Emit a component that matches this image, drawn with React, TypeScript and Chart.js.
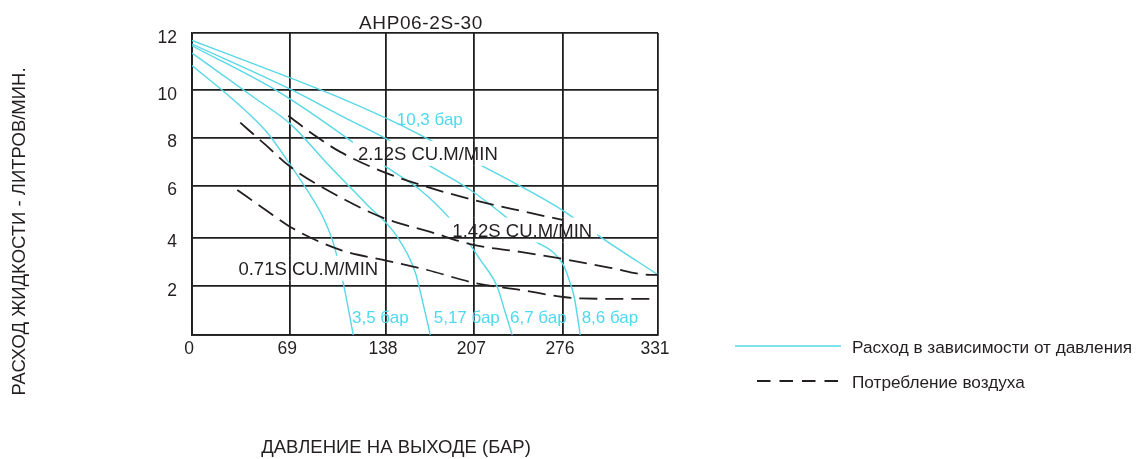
import React, { useEffect, useRef } from 'react';
import { Chart, registerables, LinearScale } from 'chart.js';

// ---------- data ----------
const TITLE = 'AHP06-2S-30';
const X_AXIS_TITLE = 'ДАВЛЕНИЕ НА ВЫХОДЕ (БАР)';
const Y_AXIS_TITLE = 'РАСХОД ЖИДКОСТИ - ЛИТРОВ/МИН.';
const X_TICKS = [0, 69, 138, 207, 276, 331];
const Y_TICKS = [0, 2, 4, 6, 8, 10, 12];

// fluid flow vs outlet pressure, per air inlet pressure
const P_35 = [0, 29, 52.9, 69, 85.6, 92.8, 100, 107.2, 114.4];
const Q_35 = [10.85, 9.58, 8.2, 6.86, 5.45, 4.76, 3.78, 2.12, 0];
const P_517 = [0, 45.8, 69, 97.8, 123.1, 146.8, 160.9, 164.8, 172.6];
const Q_517 = [11.29, 9.58, 8.57, 6.78, 5.33, 4.03, 2.56, 1.76, 0];
const P_67 = [0, 62, 114.4, 136, 164.8, 188.2, 200, 211.7, 224.9, 230.5, 236.5];
const Q_67 = [11.55, 9.87, 7.79, 6.86, 5.83, 4.72, 3.99, 3.08, 1.96, 1.02, 0];
const P_86 = [0, 69, 105, 143.7, 171.1, 203.9, 233.4, 250.5, 276.2, 279.8, 282.5, 286];
const Q_86 = [11.61, 10.02, 8.93, 7.79, 6.86, 5.83, 4.72, 3.99, 2.87, 2.2, 1.55, 0];
const P_103 = [0, 69, 105, 149.2, 176.5, 207, 248.3, 276.2, 297.6, 331];
const Q_103 = [11.74, 10.42, 9.66, 8.53, 7.78, 6.99, 5.83, 5.03, 4.03, 2.46];

// air consumption curves
const P_071 = [31.8, 51.5, 69, 105, 139, 170.3, 207.8, 242.8, 276.2, 286, 326.5];
const Q_071 = [5.83, 5.07, 4.41, 3.49, 3.04, 2.66, 2.12, 1.84, 1.55, 1.49, 1.47];
const P_142 = [33.9, 51.5, 69, 97.8, 136, 172.6, 206.2, 242.8, 271.6, 303.4, 326.5, 331];
const Q_142 = [8.62, 7.7, 6.78, 5.76, 4.76, 4.22, 3.7, 3.41, 3.16, 2.75, 2.46, 2.46];
const P_212 = [67.6, 87, 105, 136, 172.6, 206.2, 242.8, 275.5];
const Q_212 = [8.91, 8.07, 7.4, 6.57, 5.91, 5.45, 5.03, 4.68];

const FLOW_SERIES = [
  { p: P_35, q: Q_35 },
  { p: P_517, q: Q_517 },
  { p: P_67, q: Q_67 },
  { p: P_86, q: Q_86 },
  { p: P_103, q: Q_103 },
];
const AIR_SERIES = [
  { p: P_071, q: Q_071 },
  { p: P_142, q: Q_142 },
  { p: P_212, q: Q_212 },
];

// curve labels anchored in data coordinates (centre x, baseline y)
const FLOW_LABELS = [
  { text: '10,3 бар', p: 172.2, q: 8.53 },
  { text: '3,5 бар', p: 133.9, q: 0.47 },
  { text: '5,17 бар', p: 201.1, q: 0.47 },
  { text: '6,7 бар', p: 256.8, q: 0.47 },
  { text: '8,6 бар', p: 303.2, q: 0.47 },
];
const AIR_LABELS = [
  { text: '2.12S CU.M/MIN', p: 170.7, q: 7.07 },
  { text: '1.42S CU.M/MIN', p: 244.3, q: 4.04 },
  { text: '0.71S CU.M/MIN', p: 82, q: 2.46 },
];
const LEGEND_ITEMS = [
  { text: 'Расход в зависимости от давления', dashed: false },
  { text: 'Потребление воздуха', dashed: true },
];

// ---------- styles / layout ----------
const FAMILY = "'Liberation Sans', Arial, Helvetica, sans-serif";
const INK = '#231F20';
const CYAN = '#58D8E6';
const CYAN_TEXT = '#4FD9EE';
const GRID = '#1E1E1E';
// where each printed grid line sits along its axis (fraction of the plot), as on the printed chart
const X_GRID_FRACTIONS = [0, 0.2109, 0.4163, 0.6058, 0.7961, 1];
const Y_GRID_FRACTIONS = [0, 0.1624, 0.3225, 0.4949, 0.654, 0.8121, 1];

// axis that follows the printed (hand-drawn) grid spacing between labelled marks
class PrintedGridScale extends LinearScale {
  static id = 'printedGrid';
  _grid() {
    return this.axis === 'x'
      ? { t: X_TICKS, f: X_GRID_FRACTIONS }
      : { t: Y_TICKS, f: Y_GRID_FRACTIONS };
  }
  getPixelForValue(value: number) {
    const { t, f } = this._grid();
    const n = t.length - 1;
    let i = 0;
    while (i < n - 1 && value > t[i + 1]) i++;
    const r = (value - t[i]) / (t[i + 1] - t[i]);
    return this.getPixelForDecimal(f[i] + r * (f[i + 1] - f[i]));
  }
  getValueForPixel(pixel: number) {
    const { t, f } = this._grid();
    const d = this.getDecimalForPixel(pixel);
    const n = t.length - 1;
    let i = 0;
    while (i < n - 1 && d > f[i + 1]) i++;
    const r = (d - f[i]) / (f[i + 1] - f[i]);
    return t[i] + r * (t[i + 1] - t[i]);
  }
}

Chart.register(...registerables, PrintedGridScale);

const LABEL_FONT = `18.5px ${FAMILY}`;

function labelBoxes(chart: any) {
  const ctx = chart.ctx;
  const xs = chart.scales.x;
  const ys = chart.scales.y;
  ctx.save();
  ctx.font = LABEL_FONT;
  const rects = AIR_LABELS.map((l) => {
    const w = ctx.measureText(l.text).width;
    const cx = xs.getPixelForValue(l.p);
    const by = ys.getPixelForValue(l.q);
    return [cx - w / 2 - 5, by - 19, w + 10, 25];
  });
  ctx.fillStyle = '#FFFFFF';
  rects.forEach((r) => ctx.fillRect(r[0], r[1], r[2], r[3]));
  ctx.beginPath();
  rects.forEach((r) => ctx.rect(r[0], r[1], r[2], r[3]));
  ctx.clip();
  xs.drawGrid(chart.chartArea);
  ys.drawGrid(chart.chartArea);
  ctx.restore();
}

function text(ctx: any, s: string, x: number, y: number, font: string, color: string, spacing = '0px', align = 'center') {
  ctx.save();
  ctx.font = font;
  ctx.fillStyle = color;
  ctx.textAlign = align;
  ctx.textBaseline = 'alphabetic';
  (ctx as any).letterSpacing = spacing;
  ctx.fillText(s, x, y);
  ctx.restore();
}

const annotatePlugin = {
  id: 'annotate',
  beforeDraw(chart: any) {
    chart.$boxesDone = false;
  },
  beforeDatasetDraw(chart: any, args: any) {
    const ds = chart.data.datasets[args.index];
    if (ds.group === 'air' && !chart.$boxesDone) {
      chart.$boxesDone = true;
      labelBoxes(chart);
    }
  },
  afterDraw(chart: any) {
    const ctx = chart.ctx;
    const xs = chart.scales.x;
    const ys = chart.scales.y;
    const area = chart.chartArea;

    // title
    text(ctx, TITLE, (area.left + area.right) / 2 - 4, 28.5, `19px ${FAMILY}`, INK, '0.6px');

    // curve labels
    FLOW_LABELS.forEach((l) =>
      text(ctx, l.text, xs.getPixelForValue(l.p), ys.getPixelForValue(l.q), `17px ${FAMILY}`, CYAN_TEXT)
    );
    AIR_LABELS.forEach((l) =>
      text(ctx, l.text, xs.getPixelForValue(l.p), ys.getPixelForValue(l.q), LABEL_FONT, INK)
    );

    // axis titles
    text(ctx, X_AXIS_TITLE, 396, 453, `18.5px ${FAMILY}`, INK);
    ctx.save();
    ctx.translate(25, 231.5);
    ctx.rotate(-Math.PI / 2);
    text(ctx, Y_AXIS_TITLE, 0, 0, `18.5px ${FAMILY}`, INK);
    ctx.restore();

    // legend
    LEGEND_ITEMS.forEach((item, i) => {
      const y = 346 + i * 35;
      ctx.save();
      ctx.beginPath();
      if (item.dashed) {
        ctx.strokeStyle = INK;
        ctx.lineWidth = 1.8;
        ctx.setLineDash([13.5, 9]);
        ctx.moveTo(757, y);
        ctx.lineTo(838, y);
      } else {
        ctx.strokeStyle = CYAN;
        ctx.lineWidth = 1.4;
        ctx.moveTo(735, y);
        ctx.lineTo(841, y);
      }
      ctx.stroke();
      ctx.restore();
      text(ctx, item.text, 852, y + 6.5, `17.2px ${FAMILY}`, INK, '0px', 'left');
    });
  },
};

export default function App() {
  const ref = useRef<HTMLCanvasElement | null>(null);

  useEffect(() => {
    if (!ref.current) return;
    const datasets: any[] = [];
    FLOW_SERIES.forEach((s) =>
      datasets.push({
        group: 'flow',
        order: 2,
        data: s.p.map((p, i) => ({ x: p, y: s.q[i] })),
        borderColor: CYAN,
        borderWidth: 1.4,
        pointRadius: 0,
        fill: false,
        cubicInterpolationMode: 'monotone',
      })
    );
    AIR_SERIES.forEach((s) =>
      datasets.push({
        group: 'air',
        order: 1,
        data: s.p.map((p, i) => ({ x: p, y: s.q[i] })),
        borderColor: INK,
        borderWidth: 1.8,
        borderDash: [18, 8],
        pointRadius: 0,
        fill: false,
        cubicInterpolationMode: 'monotone',
      })
    );

    const tickFont = { family: FAMILY, size: 17.5 };
    const chart = new Chart(ref.current, {
      type: 'line',
      data: { datasets },
      options: {
        responsive: false,
        animation: false,
        events: [],
        layout: { padding: { left: 0, top: 33, right: 478, bottom: 0 } },
        plugins: { legend: { display: false }, title: { display: false }, tooltip: { enabled: false } },
        scales: {
          x: {
            type: 'printedGrid' as any,
            min: X_TICKS[0],
            max: X_TICKS[X_TICKS.length - 1],
            afterBuildTicks: (s: any) => {
              s.ticks = X_TICKS.map((v) => ({ value: v }));
            },
            afterFit: (s: any) => {
              s.height = 124;
            },
            ticks: {
              autoSkip: false,
              maxRotation: 0,
              padding: 4,
              labelOffset: -3,
              color: INK,
              font: tickFont,
              callback: (v: any) => String(v),
            },
            grid: { color: GRID, lineWidth: 1.8, drawTicks: false },
            border: { display: true, color: GRID, width: 1.8 },
          },
          y: {
            type: 'printedGrid' as any,
            axis: 'y',
            min: Y_TICKS[0],
            max: Y_TICKS[Y_TICKS.length - 1],
            afterBuildTicks: (s: any) => {
              s.ticks = Y_TICKS.map((v) => ({ value: v }));
            },
            afterFit: (s: any) => {
              s.width = 192;
            },
            ticks: {
              autoSkip: false,
              padding: 15,
              labelOffset: 5,
              color: INK,
              font: tickFont,
              callback: (v: any) => (v === 0 ? '' : String(v)),
            },
            grid: { color: GRID, lineWidth: 1.8, drawTicks: false },
            border: { display: true, color: GRID, width: 1.8 },
          },
        },
      },
      plugins: [annotatePlugin],
    } as any);
    return () => chart.destroy();
  }, []);

  return (
    <div style={{ position: 'absolute', left: 0, top: 0, width: 1136, height: 459, background: '#fff' }}>
      <canvas ref={ref} width={1136} height={459} style={{ display: 'block' }} />
    </div>
  );
}
